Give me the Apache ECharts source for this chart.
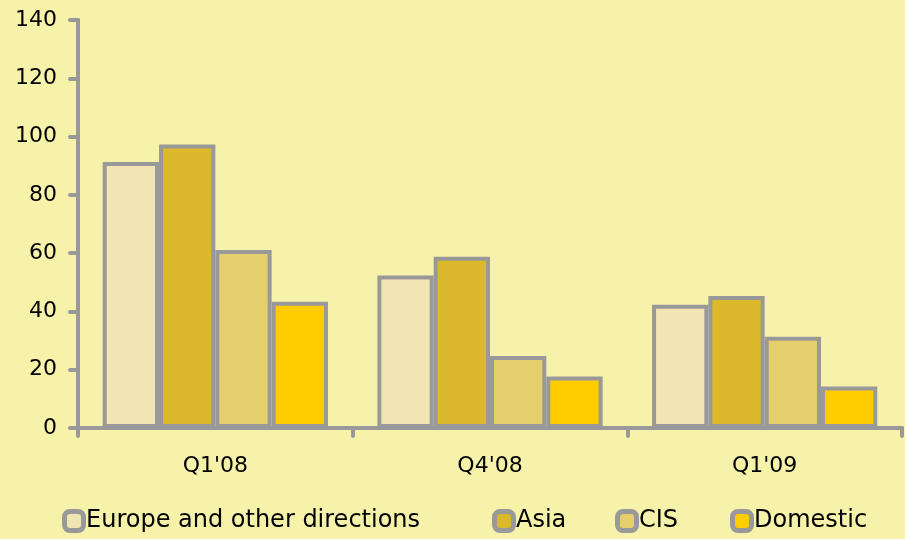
<!DOCTYPE html>
<html><head><meta charset="utf-8">
<script src="https://cdn.jsdelivr.net/npm/echarts@6/dist/echarts.min.js"></script>
<style>html,body{margin:0;padding:0;background:#F7F2AA;}#c{width:905px;height:539px;}</style>
</head><body><div id="c"></div>
<script>
const categories = ["Q1'08", "Q4'08", "Q1'09"];
const seriesNames = ['Europe and other directions', 'Asia', 'CIS', 'Domestic'];
const europe = [91.3, 52.3, 42.3];
const asia = [97.3, 58.8, 45.3];
const cis = [61.1, 24.7, 31.3];
const domestic = [43.3, 17.7, 14.2];
const yTicks = [0, 20, 40, 60, 80, 100, 120, 140];

const FONT = 'DejaVu Sans';
const GRAY = '#999999';
const COLORS = ['#F1E6B3', '#DBB92A', '#E5CF6D', '#FFCC00'];
const LEGEND_LEFT = [67, 497, 620, 735];
const chart = echarts.init(document.getElementById('c'), null, {renderer: 'canvas'});
function s(name, data, color) {
  return {
    name, type: 'bar', data, barGap: '0%', barCategoryGap: '18%',
    itemStyle: {color, borderColor: GRAY, borderWidth: 4},
    emphasis: {disabled: true}
  };
}
const legends = seriesNames.map((n, i) => ({
  data: [n],
  left: LEGEND_LEFT[i] - 7, top: 509, padding: 0,
  itemWidth: 2, itemHeight: 2, icon: 'rect',
  itemStyle: {opacity: 0, borderWidth: 0},
  formatter: '{box|}{sp|}{name}',
  textStyle: {
    fontFamily: FONT, fontSize: 24, color: '#000',
    rich: {
      box: {width: 14, height: 14, backgroundColor: COLORS[i], borderColor: GRAY, borderWidth: 5, borderRadius: 3, verticalAlign: 'middle'},
      sp: {width: 5}
    }
  }
}));
chart.setOption({
  backgroundColor: '#F7F2AA',
  animation: false,
  grid: {left: 78, right: 3, top: 20, bottom: 111},
  legend: legends,
  xAxis: {
    type: 'category', data: categories,
    axisLine: {lineStyle: {color: GRAY, width: 4, cap: 'round'}},
    axisTick: {show: true, length: 8, lineStyle: {color: GRAY, width: 4, cap: 'round'}},
    axisLabel: {fontFamily: FONT, fontSize: 22, color: '#000', margin: 27}
  },
  yAxis: {
    type: 'value', min: yTicks[0], max: yTicks[yTicks.length - 1], interval: 20,
    splitLine: {show: false},
    axisLine: {show: true, lineStyle: {color: GRAY, width: 4, cap: 'round'}},
    axisTick: {show: true, length: 8, lineStyle: {color: GRAY, width: 4, cap: 'round'}},
    axisLabel: {fontFamily: FONT, fontSize: 22, color: '#000', margin: 21}
  },
  series: seriesNames.map((n, i) => s(n, [europe, asia, cis, domestic][i], COLORS[i]))
});
</script></body></html>
